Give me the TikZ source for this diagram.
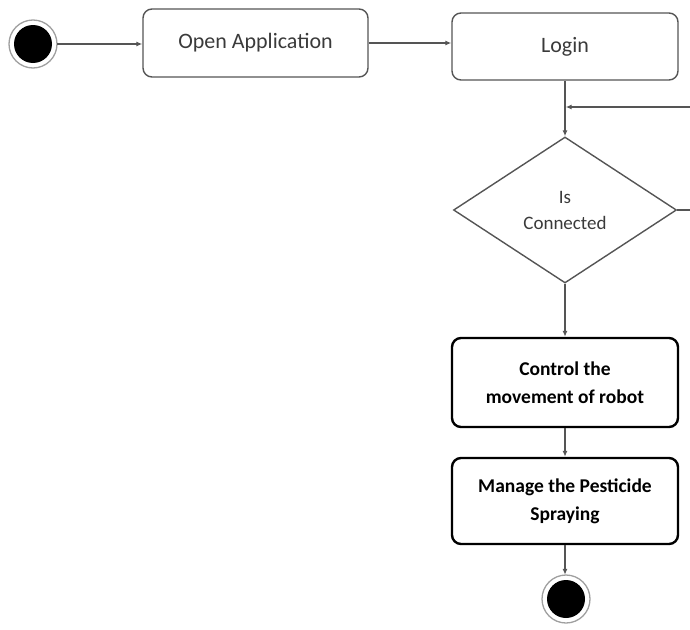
\documentclass[tikz,border=0pt]{standalone}
\usepackage{fontspec}
\setmainfont{Carlito}
\usetikzlibrary{shapes.geometric}
\usetikzlibrary{arrows.meta}
\definecolor{linegray}{HTML}{555555}
\definecolor{textgray}{HTML}{3A3A3A}
\newcommand*{\colx }{565}
\newcommand*{\boxw }{226pt}
\newcommand*{\ringr}{24}

\begin{document}
\begin{tikzpicture}[x=1pt, y=-1pt,
    every node/.style={inner sep=0pt},
    connector/.style={draw=linegray, line width=1.4pt},
    flow/.style={connector, -{Latex[length=6pt,width=5pt]}},
    ring/.style={draw=gray!75, line width=1.3pt},
    activity/.style={rectangle, rounded corners=9pt, draw=linegray, line width=1.4pt, text=textgray, align=center, font=\fontsize{22}{26}\selectfont},
    boldactivity/.style={rectangle, rounded corners=9pt, draw=black, line width=2.4pt, align=center, minimum width=\boxw, font=\fontsize{19.5}{28}\selectfont\bfseries},
    decision/.style={diamond, draw=linegray, line width=1.4pt, text=textgray, align=center, font=\fontsize{19}{26}\selectfont},
    terminal/.style={circle, fill=black, minimum size=38pt}]
    \useasboundingbox (0,0) rectangle (690,629);
        % states
        \node [terminal] (start) at (33,44) {};
        \draw [ring] (start) circle (\ringr);
        \node [activity, minimum width=225pt, minimum height=68pt] (open) at (255.5,43) {Open Application};
        \node [activity, minimum width=\boxw, minimum height=67pt] (login) at (\colx,46.5) {Login};
        \node [decision, minimum width=223pt, minimum height=146pt] (check) at (\colx,210) {Is\\Connected};
        \node [boldactivity, minimum height=89pt] (control) at (\colx,382.5) {Control the\\movement of robot};
        \node [boldactivity, minimum height=86pt] (manage) at (\colx,501) {Manage the Pesticide\\Spraying};
        \node [terminal] (stop) at (\colx+1,599) {};
        \draw [ring] (stop) circle (\ringr);
        % free ends at the right margin
        \coordinate (loopin)  at (690,107);
        \coordinate (loopout) at (690,210);
        % connectors
        \draw [flow, shorten <=5pt] (start.east) -- (start.east -| open.west);
        \draw [flow] (open.east) -- (open.east -| login.west);
        \draw [flow] (login) -- (check);
        \draw [flow, shorten >=0.7pt] (loopin) -- (loopin -| login.south);
        \draw [connector] (check.east) -- (loopout);
        \draw [flow] (check) -- (control);
        \draw [flow] (control) -- (manage);
        \draw [flow, shorten >=5pt] (manage.south) -- (manage.south |- stop.north);
    \end{tikzpicture}
\end{document}
